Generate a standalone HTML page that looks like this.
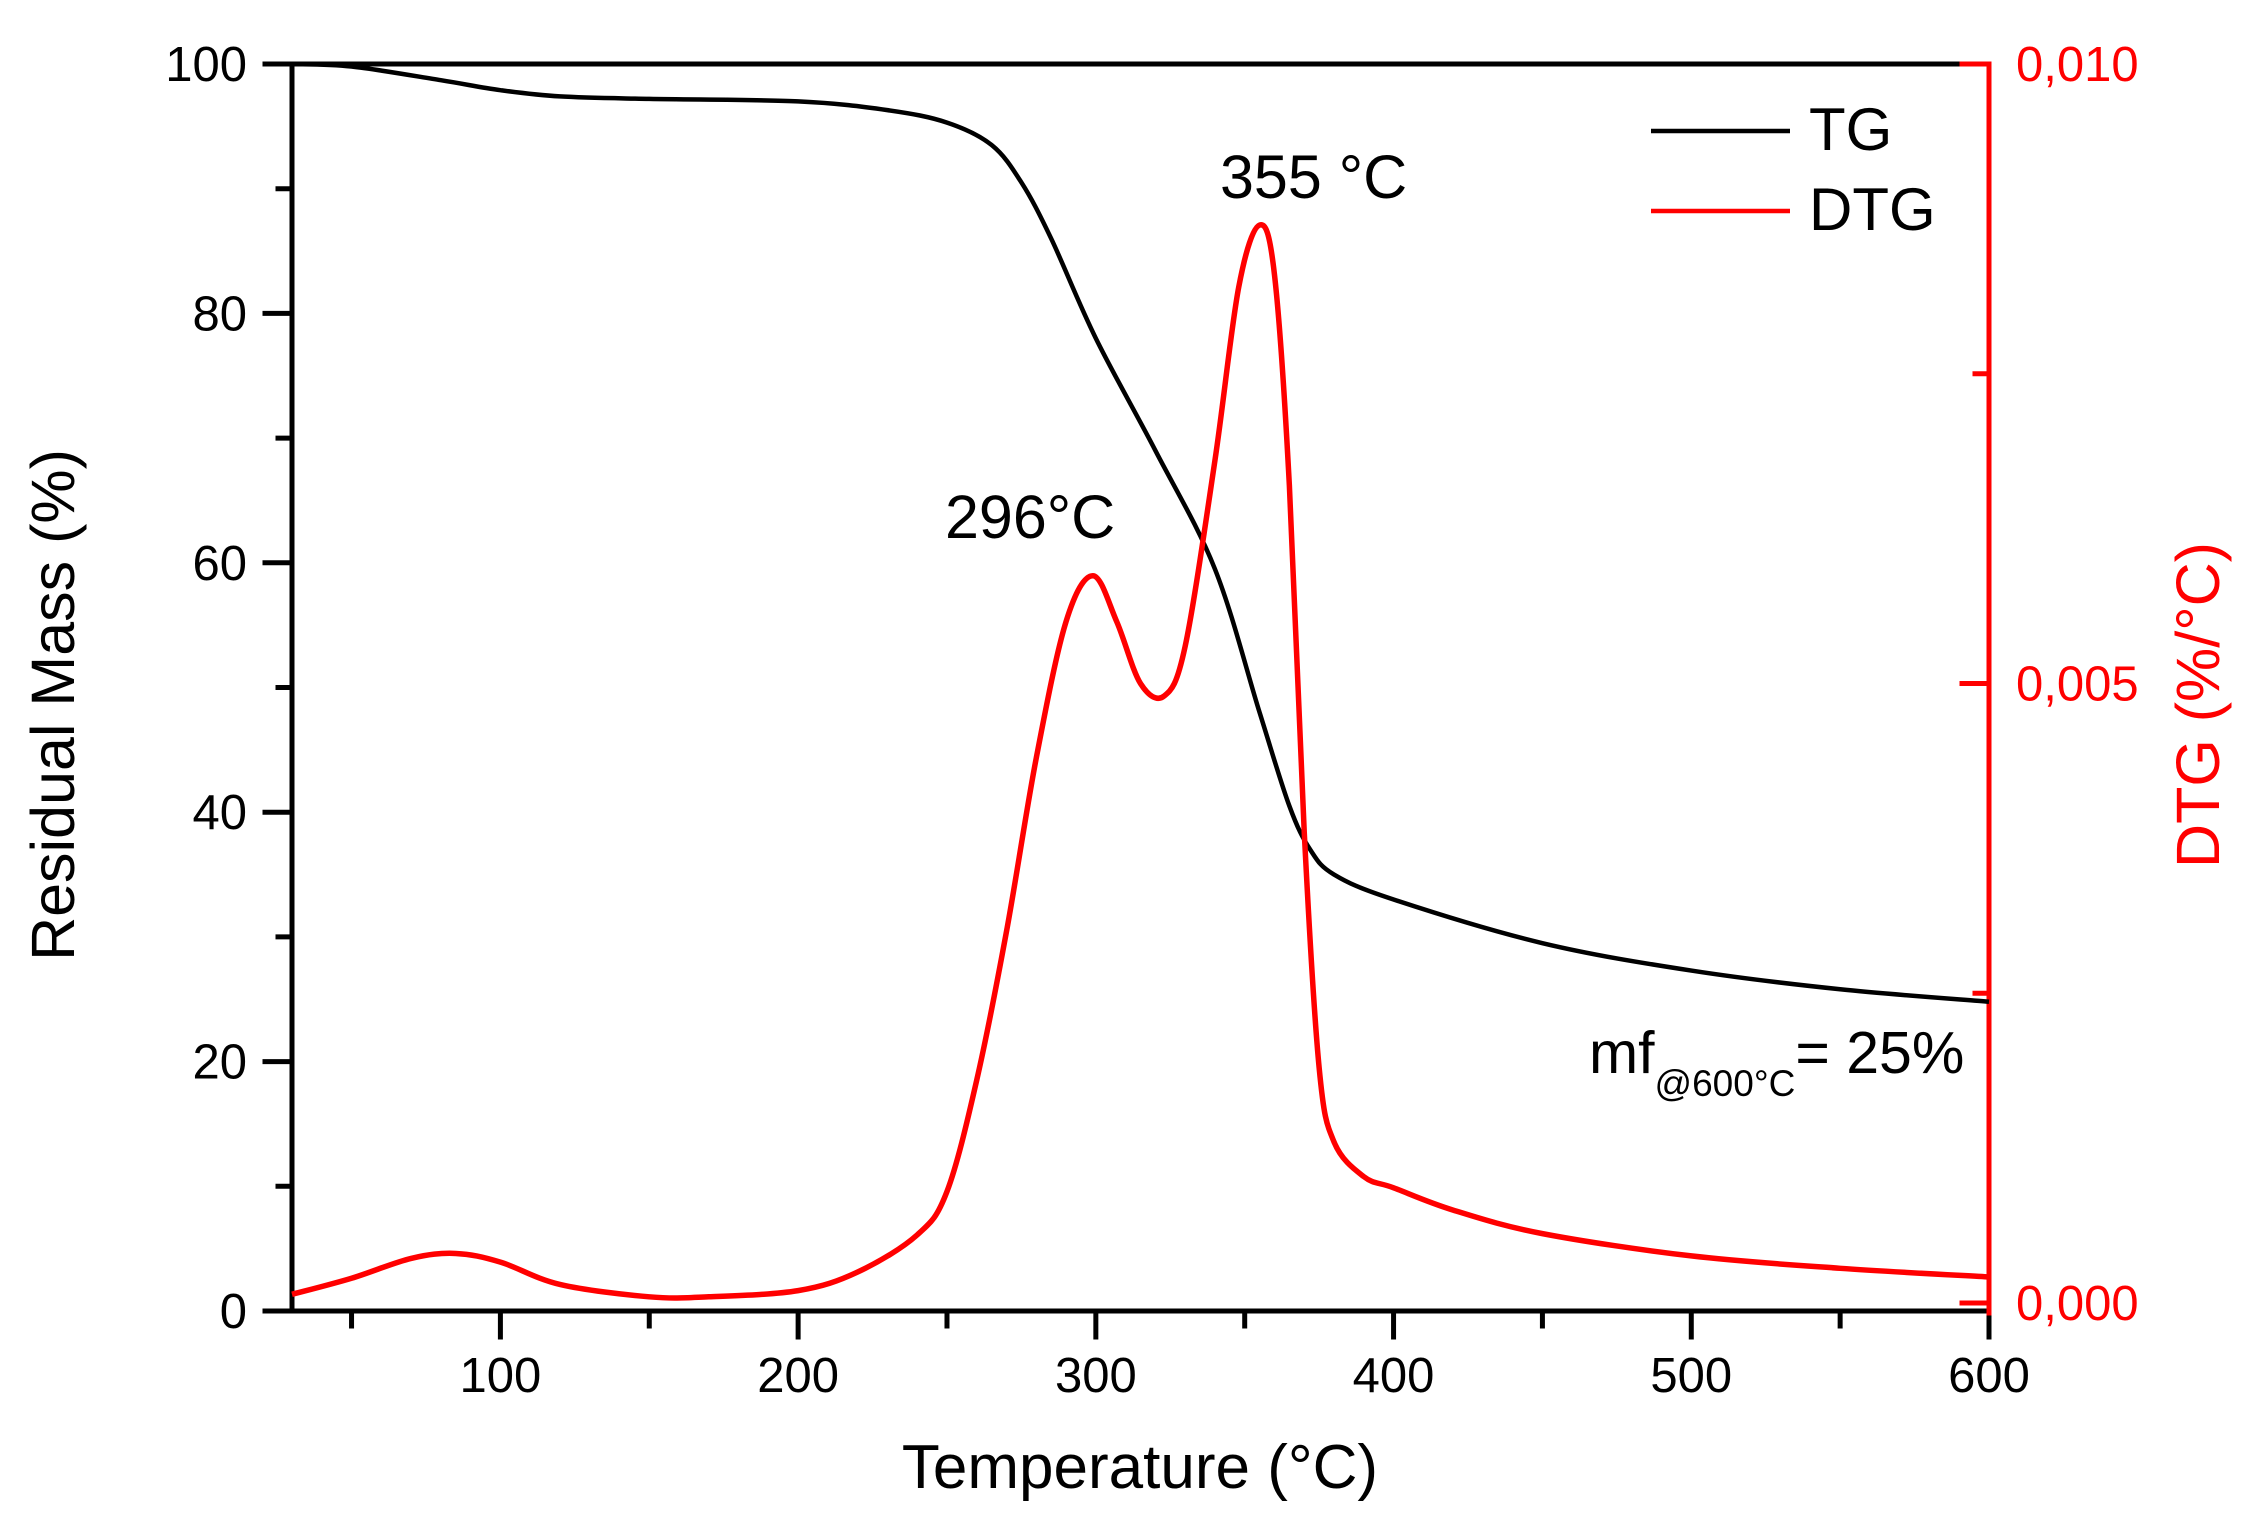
<!DOCTYPE html>
<html><head><meta charset="utf-8"><style>
html,body{margin:0;padding:0;background:#fff}
svg{display:block}
text{font-family:"Liberation Sans",Arial,sans-serif}
</style></head><body>
<svg id="s" width="2255" height="1527" viewBox="0 0 2255 1527" xmlns="http://www.w3.org/2000/svg">
<g id="ax" stroke="#000" stroke-width="5" fill="none" stroke-linecap="square"></g>
<path id="tg" fill="none" stroke="#000" stroke-width="4.5"/>
<path id="dtg" fill="none" stroke="#f00" stroke-width="5.5"/>
<g id="lab" font-size="49"></g>
<text x="945" y="538" font-size="61">296°C</text>
<text x="1220" y="198" font-size="61">355 °C</text>
<line x1="1651" y1="131" x2="1790" y2="131" stroke="#000" stroke-width="4.5"/>
<line x1="1651" y1="211" x2="1790" y2="211" stroke="#f00" stroke-width="4.5"/>
<text x="1809" y="150" font-size="60">TG</text>
<text x="1809" y="230" font-size="60">DTG</text>
<text x="1589" y="1073" font-size="59">mf<tspan font-size="37" dy="23">@600°C</tspan><tspan dy="-23">= 25%</tspan></text>
<text x="1140" y="1488" font-size="62" text-anchor="middle">Temperature (°C)</text>
<text transform="translate(74,705) rotate(-90)" font-size="61" text-anchor="middle">Residual Mass (%)</text>
<text transform="translate(2219,705) rotate(-90)" font-size="61" text-anchor="middle" fill="#f00">DTG (%/°C)</text>
</svg>
<script>
const X0=292,X1=1989,Y0=1311,Y1=64;
const fx=t=>X0+(t-30)*(X1-X0)/570, fy=v=>Y0-v*(Y0-Y1)/100, fd=d=>1303-d*123.9;
const ax=document.getElementById('ax'),lab=document.getElementById('lab');
let a='';
const L=(x1,y1,x2,y2,c)=>a+=`<line x1="${x1}" y1="${y1}" x2="${x2}" y2="${y2}"${c?` stroke="${c}"`:''}/>`;
L(X0,Y1,X1,Y1);L(X0,Y0,X1,Y0);L(X0,Y1,X0,Y0);
let l='';
for(let t=50;t<=600;t+=50){const x=fx(t),maj=t%100==0;L(x,Y0,x,Y0+(maj?26:15));
 if(maj)l+=`<text x="${x}" y="1392" text-anchor="middle">${t}</text>`;}
for(let v=0;v<=100;v+=10){const y=fy(v),maj=v%20==0;L(X0-(maj?27:14),y,X0,y);
 if(maj)l+=`<text x="247" y="${y+17}" text-anchor="end">${v}</text>`;}
L(X1,Y1,X1,Y0+2,'#f00');
for(let i=0;i<=4;i++){const y=fd(i*2.5),maj=i%2==0;L(X1-(maj?27:14),y,X1,y,'#f00');
 if(maj)l+=`<text x="2016" y="${y+17}" fill="#f00">${['0,000','','0,005','','0,010'][i]}</text>`;}
ax.innerHTML=a;lab.innerHTML=l;
function path(pts,fyy){const P=pts.map(p=>[fx(p[0]),fyy(p[1])]);let d=`M${P[0][0]},${P[0][1]}`;
 for(let i=0;i<P.length-1;i++){const p0=P[i-1]||P[i],p1=P[i],p2=P[i+1],p3=P[i+2]||p2;
  d+=`C${p1[0]+(p2[0]-p0[0])/6},${p1[1]+(p2[1]-p0[1])/6} ${p2[0]-(p3[0]-p1[0])/6},${p2[1]-(p3[1]-p1[1])/6} ${p2[0]},${p2[1]}`;}
 return d;}
document.getElementById('tg').setAttribute('d',path([[30,100],[50,99.8],[80,98.7],[100,97.9],[120,97.4],[150,97.2],[200,97],[230,96.3],[250,95.3],[265,93.5],[275,90.5],[285,86],[300,78],[320,69],[340,59.5],[355,48],[365,40.5],[372,37],[380,35],[400,33],[450,29.5],[500,27.3],[550,25.8],[600,24.8]],fy));
document.getElementById('dtg').setAttribute('d',path([[30,0.07],[50,0.2],[70,0.36],[85,0.4],[100,0.33],[120,0.15],[150,0.05],[170,0.05],[200,0.1],[220,0.25],[240,0.55],[250,0.9],[260,1.8],[270,3.0],[280,4.4],[290,5.5],[299,5.87],[307,5.5],[315,5.0],[323,4.9],[330,5.3],[340,6.8],[348,8.2],[355,8.7],[360,8.3],[365,6.6],[370,3.8],[375,1.9],[380,1.3],[390,1.02],[400,0.93],[420,0.75],[450,0.56],[500,0.38],[550,0.28],[600,0.21]],fd));
</script>
</body></html>
